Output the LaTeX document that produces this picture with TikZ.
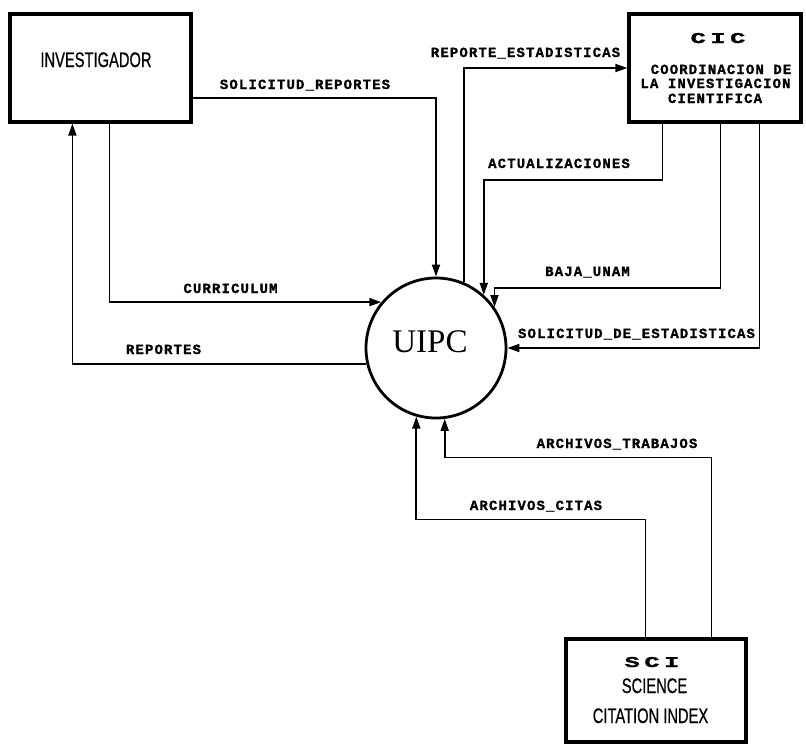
\documentclass[tikz,border=0pt]{standalone}
\usepackage{fontspec}
\setmainfont{Liberation Serif}
\newfontfamily\lblfam[LetterSpace=8.0,FakeBold=1.2]{Liberation Mono Bold}
\newfontfamily\condfam[FakeStretch=0.7,FakeBold=0.6]{Liberation Sans}
\newfontfamily\widefam[FakeStretch=1.7,FakeBold=1.5,LetterSpace=30.0]{Liberation Mono Bold}
\usetikzlibrary{arrows.meta,calc}
\tikzset{
  entity/.style={draw, line width=3.2pt, inner sep=0pt},
  proc/.style={draw, circle, line width=2.8pt, inner sep=0pt, minimum size=140pt},
  flow/.style={line width=1.8pt, -{Triangle[length=12pt,width=8pt]}},
  lbl/.style={font=\lblfam\fontsize{14pt}{14pt}\selectfont, anchor=base, inner sep=0pt},
  cond/.style={font=\condfam\fontsize{21pt}{21pt}\selectfont, anchor=base, inner sep=0pt},
  wide/.style={font=\widefam\fontsize{15pt}{15pt}\selectfont, anchor=base, inner sep=0pt},
  big/.style={font=\fontsize{33pt}{33pt}\selectfont, anchor=base, inner sep=0pt}
}
\begin{document}
\begin{tikzpicture}[x=1pt,y=-1pt]
\useasboundingbox (0,0) rectangle (806,745);
% entities
\node[entity, minimum width=181pt, minimum height=108pt] (inv) at (100.5,68) {};
\node[entity, minimum width=172pt, minimum height=108pt] (cic) at (715,68) {};
\node[entity, minimum width=180pt, minimum height=103pt] (sci) at (656,690.5) {};
\node[proc] (uipc) at (436,348) {};
% entity texts
\node[cond] (tinv) at (96,67) {INVESTIGADOR};
\node[wide] (tcic) at (718,43) {CIC};
\node[lbl] (tcic1) at (721,74) {COORDINACION DE};
\node[lbl] (tcic2) at (715.5,88) {LA INVESTIGACION};
\node[lbl] (tcic3) at (715,103) {CIENTIFICA};
\node[wide] (tsci) at (652,667) {SCI};
\node[cond] (tsci1) at (654.5,693) {SCIENCE};
\node[cond] (tsci2) at (650.5,723) {CITATION INDEX};
\node[big] (tuipc) at (430,352) {UIPC};
% flows
\draw[flow] ($(inv.east)+(0,30)$) -| (uipc.north);
\draw[flow] (uipc.67) |- (cic.west);
\draw[flow] ([xshift=35pt]cic.south west) -- ++(0,56) -| (uipc.48);
\draw[flow] ([xshift=93pt]cic.south west) -- ++(0,164) -| (uipc.35);
\draw[flow] ([xshift=132pt]cic.south west) |- (uipc.east);
\draw[flow] ([xshift=101pt]inv.south west) |- (uipc.140);
\draw[flow] (uipc.193) -| ([xshift=64pt]inv.south west);
\draw[flow] ([xshift=81pt]sci.north west) -- ++(0,-118) -| (uipc.254);
\draw[flow] ([xshift=147pt]sci.north west) -- ++(0,-180) -| (uipc.277);
% flow labels
\node[lbl] (l1) at (305,89) {SOLICITUD\_REPORTES};
\node[lbl] (l2) at (525.5,57) {REPORTE\_ESTADISTICAS};
\node[lbl] (l3) at (559,168) {ACTUALIZACIONES};
\node[lbl] (l4) at (587.5,276) {BAJA\_UNAM};
\node[lbl] (l5) at (636.5,338) {SOLICITUD\_DE\_ESTADISTICAS};
\node[lbl] (l6) at (230.5,293) {CURRICULUM};
\node[lbl] (l7) at (163.5,354) {REPORTES};
\node[lbl] (l8) at (617,448) {ARCHIVOS\_TRABAJOS};
\node[lbl] (l9) at (536,510) {ARCHIVOS\_CITAS};
\end{tikzpicture}
\end{document}
